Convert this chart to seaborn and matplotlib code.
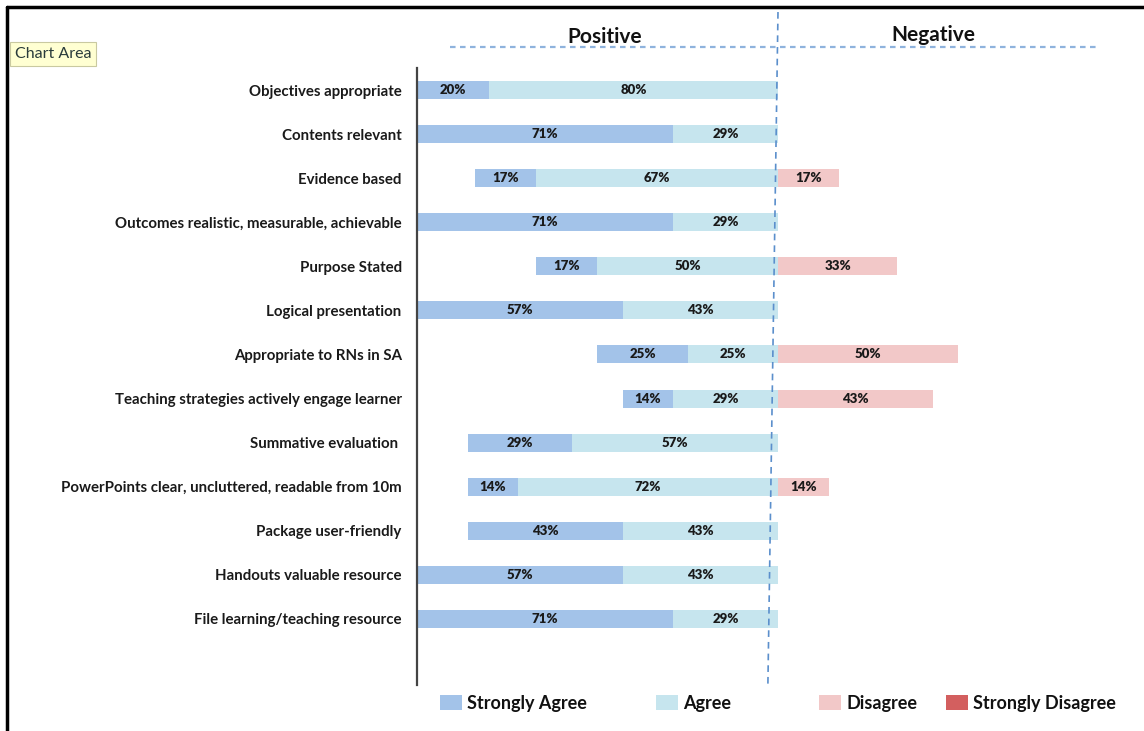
import matplotlib
matplotlib.use("Agg")
import matplotlib.pyplot as plt
from matplotlib.patches import Patch
from matplotlib.lines import Line2D
import pandas as pd
import seaborn as sns

# Survey items and percentages
items = ["Objectives appropriate", "Contents relevant", "Evidence based",
         "Outcomes realistic, measurable, achievable", "Purpose Stated",
         "Logical presentation", "Appropriate to RNs in SA",
         "Teaching strategies actively engage learner", "Summative evaluation ",
         "PowerPoints clear, uncluttered, readable from 10m", "Package user-friendly",
         "Handouts valuable resource", "File learning/teaching resource"]
strongly_agree = [20, 71, 17, 71, 17, 57, 25, 14, 29, 14, 43, 57, 71]
agree = [80, 29, 67, 29, 50, 43, 25, 29, 57, 72, 43, 43, 29]
disagree = [0, 0, 17, 0, 33, 0, 50, 43, 0, 14, 0, 0, 0]
strongly_disagree = [0, 0, 0, 0, 0, 0, 0, 0, 0, 0, 0, 0, 0]

legend_labels = ["Strongly Agree", "Agree", "Disagree", "Strongly Disagree"]
colors = ["#a3c3e9", "#c6e5ee", "#f2c8c8", "#d35f5f"]

df = pd.DataFrame({"item": items, "sa": strongly_agree, "a": agree,
                   "d": disagree, "sd": strongly_disagree})
df["pos_total"] = -(df["sa"] + df["a"])
df["agree_only"] = -df["a"]

sns.set_style("white")
plt.rcParams["font.family"] = ["Lato", "DejaVu Sans"]

fig = plt.figure(figsize=(11.44, 7.31), dpi=100)
ax = fig.add_axes([417 / 1144, 1 - 685 / 731, (1100 - 417) / 1144, (685 - 68) / 731])

# Stacked diverging bars
sns.barplot(data=df, y="item", x="pos_total", color=colors[0], width=0.41,
            linewidth=0, saturation=1, orient="h", ax=ax)
sns.barplot(data=df, y="item", x="agree_only", color=colors[1], width=0.41,
            linewidth=0, saturation=1, orient="h", ax=ax)
sns.barplot(data=df, y="item", x="d", color=colors[2], width=0.41,
            linewidth=0, saturation=1, orient="h", ax=ax)

# Value labels
for i in range(len(items)):
    sa, a, d = strongly_agree[i], agree[i], disagree[i]
    kw = dict(ha="center", va="center", fontsize=9.5, fontweight="heavy", color="#1a1a1a")
    if sa > 0:
        ax.text(-a - sa / 2, i, f"{sa}%", **kw)
    if a > 0:
        ax.text(-a / 2, i, f"{a}%", **kw)
    if d > 0:
        ax.text(d / 2, i, f"{d}%", **kw)

ax.set_xlim(-100, 89.2)
ax.set_ylim(13.5, -0.5)
ax.set_xlabel("")
ax.set_ylabel("")
ax.set_xticks([])
ax.tick_params(axis="y", length=0, pad=11)
for lbl in ax.get_yticklabels():
    lbl.set_fontweight("bold")
    lbl.set_fontsize(10.8)
    lbl.set_color("#1a1a1a")

for side in ["top", "right", "bottom"]:
    ax.spines[side].set_visible(False)
ax.spines["left"].set_color("#444444")
ax.spines["left"].set_linewidth(1.6)

# Dashed guide lines
ax.add_line(Line2D([0, -2.8], [-1.77, 13.5], color="#5b8fcc", lw=1.2,
                   linestyle=(0, (4, 3)), clip_on=False))
ax.add_line(Line2D([-90.9, 88.6], [-0.98, -0.98], color="#8fb3dd", lw=1.6,
                   linestyle=(0, (2.5, 2)), clip_on=False))

ax.text(-48, -1.2, "Positive", ha="center", va="center", fontsize=15,
        fontweight="bold", color="#111111")
ax.text(43, -1.25, "Negative", ha="center", va="center", fontsize=15,
        fontweight="bold", color="#111111")

# Legend, one entry per position as in the original layout
legend_x = [440, 656, 819, 946]
for lab, col, px in zip(legend_labels, colors, legend_x):
    leg = fig.legend([Patch(facecolor=col, edgecolor="none")], [lab],
                     loc="center left", bbox_to_anchor=(px / 1144, 0.038),
                     frameon=False, borderpad=0, borderaxespad=0,
                     handlelength=1.2, handleheight=0.9, handletextpad=0.3,
                     prop={"family": "Lato", "weight": "bold", "size": 13})
    for t in leg.get_texts():
        t.set_color("#111111")

# Tooltip and frame
fig.text(15 / 1144, 1 - 54 / 731, "Chart Area", ha="left", va="center", fontsize=11.5,
         color="#2a3b3b",
         bbox=dict(boxstyle="square,pad=0.3", fc="#ffffd2", ec="#c9c9a0", lw=0.8))
fig.add_artist(Line2D([7 / 1144, 7 / 1144], [0, 1 - 7 / 731], color="black", lw=2.5))
fig.add_artist(Line2D([7 / 1144, 1], [1 - 7 / 731, 1 - 7 / 731], color="black", lw=2.5))

fig.savefig("out.png", dpi=100)
